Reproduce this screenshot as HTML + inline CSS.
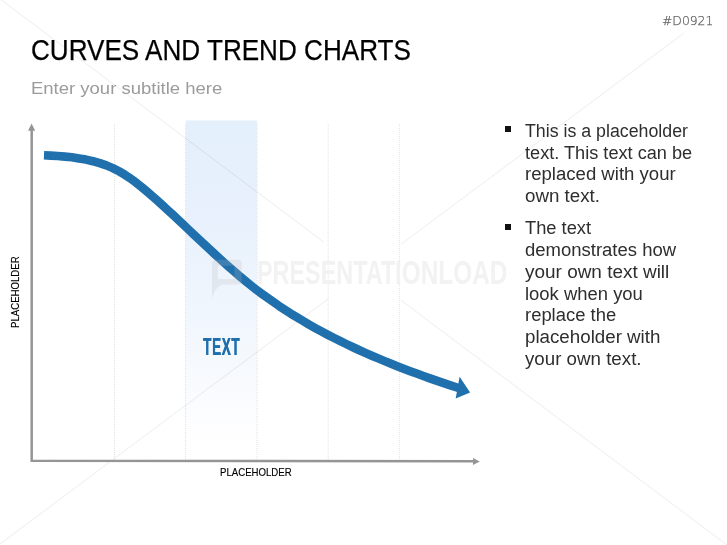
<!DOCTYPE html>
<html lang="en">
<head>
<meta charset="utf-8">
<title>Curves and Trend Charts</title>
<style>
html,body{margin:0;padding:0;background:#fff;}
body{width:727px;height:545px;position:relative;overflow:hidden;font-family:"Liberation Sans",sans-serif;}
.abs{position:absolute;white-space:nowrap;transform-origin:0 0;}
#gfx{position:absolute;left:0;top:0;}
#code{left:662.4px;top:12.5px;font-family:"DejaVu Sans",sans-serif;font-weight:200;font-size:12.8px;line-height:16px;color:#555;-webkit-text-stroke:0.25px #666;transform:scaleX(0.966);}
#title{left:31.2px;top:33.3px;font-size:28.6px;line-height:34px;color:#000;-webkit-text-stroke:0.25px #000;transform:scaleX(0.9125);}
#sub{left:31.2px;top:76.8px;font-size:17.3px;line-height:22px;color:#9b9b9b;transform:scaleX(1.07);}
#xl{left:220.4px;top:465px;font-size:10.5px;line-height:14px;color:#000;-webkit-text-stroke:0.15px #000;transform:scaleX(0.916);}
#yl{left:8.2px;top:328.2px;font-size:10.5px;line-height:14px;color:#000;-webkit-text-stroke:0.15px #000;transform:rotate(-90deg) scaleX(0.916);}
#txt{left:202.6px;top:334.2px;font-size:23.6px;line-height:26px;font-weight:bold;color:#1f6fad;text-shadow:0.55px 0 0 #1f6fad;letter-spacing:1.1px;transform:scaleX(0.575);}
#wm{left:257.4px;top:254.6px;font-size:32.6px;line-height:36px;font-weight:bold;color:#f2f2f2;}
#wm span{position:absolute;top:0;transform-origin:0 0;}
#wm .a{left:0;transform:scaleX(0.718);}
#wm .b{left:137.6px;transform:scaleX(0.748);}
ul{list-style:none;margin:0;padding:0;position:absolute;left:525px;top:121px;transform-origin:0 0;color:#2e2e2e;font-size:17.6px;line-height:21.7px;white-space:nowrap;}
li{margin:0 0 10.6px 0;padding:0;position:relative;}
li span{display:block;transform-origin:0 0;}
li i{position:absolute;left:-19.8px;top:5.2px;width:6px;height:6px;background:#111;}
</style>
</head>
<body>
<svg id="gfx" width="727" height="545" viewBox="0 0 727 545">
  <defs>
    <linearGradient id="band" x1="0" y1="0" x2="0" y2="1">
      <stop offset="0" stop-color="#e4effc"/>
      <stop offset="0.3" stop-color="#e8f1fc"/>
      <stop offset="0.57" stop-color="#f0f6fd"/>
      <stop offset="0.8" stop-color="#f9fbfe"/>
      <stop offset="0.92" stop-color="#fefeff"/>
      <stop offset="1" stop-color="#ffffff"/>
    </linearGradient>
  </defs>
  <rect x="185.8" y="120.4" width="71" height="339.6" fill="url(#band)"/>
  <g stroke="#e2e2e2" stroke-width="1" stroke-dasharray="1 1" fill="none">
    <line x1="114.5" y1="124" x2="114.5" y2="460"/>
    <line x1="185.5" y1="124" x2="185.5" y2="460"/>
    <line x1="257" y1="124" x2="257" y2="460"/>
    <line x1="328.2" y1="124" x2="328.2" y2="460"/>
    <line x1="399.4" y1="124" x2="399.4" y2="460"/>
  </g>
  <!-- faint watermark diagonals -->
  <g stroke="rgba(0,0,0,0.055)" stroke-width="1.1" fill="none">
    <path d="M0 -1 L324 242.3 M401 300.2 L727 545"/>
    <path d="M0 544 L328 299 M401 244.4 L684 33"/>
  </g>
  <!-- axes -->
  <path d="M31.7 130 V460.75 L474 461.3" stroke="#959595" stroke-width="2.5" fill="none"/>
  <path d="M31.6 123.5 L35.2 130.8 H28 Z" fill="#959595"/>
  <path d="M479.8 461.5 L473 458.1 V464.9 Z" fill="#959595"/>
  <!-- curve -->
  <path d="M44.0 155.3 L50.8 155.6 L57.8 156.0 L64.8 156.6 L71.9 157.3 L79.0 158.4 L86.0 159.6 L92.9 161.2 L99.7 163.2 L106.4 165.4 L112.8 168.1 L119.0 171.3 L124.9 174.8 L130.7 178.6 L136.3 182.8 L141.7 187.1 L147.1 191.6 L152.4 196.2 L157.6 200.8 L162.8 205.5 L168.0 210.3 L173.2 215.0 L178.3 219.8 L183.4 224.6 L188.5 229.5 L193.6 234.3 L198.7 239.1 L203.8 243.9 L208.9 248.7 L214.1 253.5 L219.2 258.2 L224.4 262.9 L229.6 267.5 L234.9 272.1 L240.2 276.7 L245.6 281.1 L251.0 285.5 L256.5 289.8 L262.1 294.0 L267.8 298.1 L273.5 302.1 L279.2 306.1 L285.0 309.9 L290.9 313.7 L296.9 317.3 L302.9 320.9 L308.9 324.5 L315.0 327.9 L321.2 331.3 L327.4 334.6 L333.6 337.8 L339.9 340.9 L346.2 344.0 L352.5 347.0 L358.9 350.0 L365.3 352.9 L371.8 355.7 L378.2 358.4 L384.7 361.1 L391.2 363.8 L397.8 366.4 L404.3 368.9 L410.9 371.4 L417.4 373.8 L424.0 376.2 L430.6 378.6 L437.2 380.9 L443.8 383.1 L450.4 385.3 L457.0 387.5 L458.9 388.1" fill="none" stroke="#2070ad" stroke-width="8.6" stroke-linejoin="round"/>
  <path d="M470.1 392.4 L459.6 376.8 L455.7 398.4 Z" fill="#2070ad"/>
  <!-- watermark icon -->
  <path fill="rgba(185,185,185,0.21)" fill-rule="evenodd" d="M215.4 259.8 H238.2 Q241.7 259.8 241.7 263.3 V281.1 Q241.7 284.6 238.2 284.6 H221.5 Q214.5 289 212.6 297.2 Q211.9 297.2 211.9 296 V263.3 Q211.9 259.8 215.4 259.8 Z M218.8 265.8 Q217.8 265.8 217.8 266.8 V278 Q217.8 279 218.8 279 H233.4 Q234.4 279 234.4 278 V266.8 Q234.4 265.8 233.4 265.8 Z"/>
</svg>
<div class="abs" id="code">#D0921</div>
<div class="abs" id="title">CURVES AND TREND CHARTS</div>
<div class="abs" id="sub">Enter your subtitle here</div>
<div class="abs" id="wm"><span class="a">PRESENTAT</span><span class="b">IONLOAD</span></div>
<div class="abs" id="txt">TEXT</div>
<div class="abs" id="xl">PLACEHOLDER</div>
<div class="abs" id="yl">PLACEHOLDER</div>
<ul>
  <li><i></i><span style="transform:scaleX(1.010)">This is a placeholder</span><span style="transform:scaleX(1.032)">text. This text can be</span><span style="transform:scaleX(1.055)">replaced with your</span><span style="transform:scaleX(1.065)">own text.</span></li>
  <li><i></i><span style="transform:scaleX(1.040)">The text</span><span style="transform:scaleX(1.051)">demonstrates how</span><span style="transform:scaleX(1.077)">your own text will</span><span style="transform:scaleX(1.048)">look when you</span><span style="transform:scaleX(1.047)">replace the</span><span style="transform:scaleX(1.065)">placeholder with</span><span style="transform:scaleX(1.064)">your own text.</span></li>
</ul>
</body>
</html>
